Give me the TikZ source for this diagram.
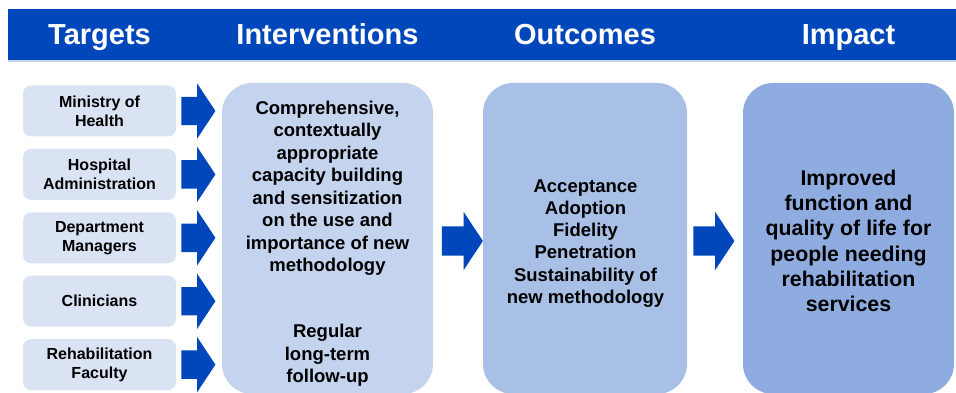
\documentclass[tikz,border=0pt]{standalone}
\usepackage{fontspec}
\setmainfont{Liberation Sans}
\usetikzlibrary{positioning}
\usetikzlibrary{shapes.arrows}
\definecolor{barblue}{RGB}{0,71,187}
\definecolor{barline}{RGB}{200,214,240}
\definecolor{tgtfill}{RGB}{218,227,243}
\definecolor{ivnfill}{RGB}{196,212,238}
\definecolor{outfill}{RGB}{169,192,230}
\definecolor{impfill}{RGB}{142,172,223}
\tikzset{hdr/.style={text=white, anchor=base, inner sep=0pt, font=\fontsize{29}{29}\selectfont\bfseries},
target/.style={rectangle, fill=tgtfill, rounded corners=8pt, minimum width=153pt,
minimum height=51pt, inner sep=0pt, align=center, font=\fontsize{16}{19}\selectfont\bfseries},
stage/.style={rectangle, rounded corners=30pt, minimum width=211pt, minimum height=311pt, inner sep=0pt},
body/.style={align=center, inner sep=0pt, font=\fontsize{18.5}{22.5}\selectfont\bfseries},
bigarrow/.style={single arrow, fill=barblue, inner xsep=0pt, inner ysep=14pt,
single arrow head extend=13.5pt, single arrow tip angle=113, minimum height=34pt},
midarrow/.style={bigarrow, inner ysep=14.5pt, single arrow head extend=14.5pt, minimum height=41pt}}

\begin{document}
\begin{tikzpicture}[x=1pt, y=-1pt]
    \useasboundingbox (0,0) rectangle (956,393);

    \node (bar) [rectangle, fill=barblue, minimum width=948pt, minimum height=51pt, inner sep=0pt] at (482,34.5) {};
    \draw [barline, line width=1.2pt] ([yshift=-0.8pt]bar.south west) -- ([yshift=-0.8pt]bar.south east);

    \node (tgt1) [target] at (99.5,111) {Ministry of\\Health};
    \node (tgt2) [target, below = 12pt of tgt1] {Hospital\\Administration};
    \node (tgt3) [target, below = 12pt of tgt2] {Department\\Managers};
    \node (tgt4) [target, below = 12pt of tgt3] {Clinicians};
    \node (tgt5) [target, below = 12pt of tgt4] {Rehabilitation\\Faculty};

    \node (arr1) [bigarrow, right = 5pt of tgt1] {};
    \node (arr2) [bigarrow, right = 5pt of tgt2] {};
    \node (arr3) [bigarrow, right = 5pt of tgt3] {};
    \node (arr4) [bigarrow, right = 5pt of tgt4] {};
    \node (arr5) [bigarrow, right = 5pt of tgt5] {};

    \node (ivn) [stage, fill=ivnfill] at (327.5,238.5) {};
    \node (out) [stage, fill=outfill, minimum width=204pt] at (585,238.5) {};
    \node (imp) [stage, fill=impfill] at (848.5,238.5) {};

    \node (arr_ivn) [midarrow, right = 8.5pt of ivn, yshift=-2.5pt] {};
    \node (arr_out) [midarrow, right = 6pt of out, yshift=-2.5pt] {};

    \node (h_tgt) [hdr] at (tgt1 |- 0,45) {Targets};
    \node (h_ivn) [hdr] at (ivn |- 0,45) {Interventions};
    \node (h_out) [hdr] at (out |- 0,45) {Outcomes};
    \node (h_imp) [hdr] at (imp |- 0,45) {Impact};

    \node (ivn_txt) [body] at (327.5,188.5) {Comprehensive,\\contextually\\appropriate\\capacity building\\and sensitization\\on the use and\\importance of new\\methodology};
    \node (ivn_fol) [body] at (327.5,355.5) {Regular\\long-term\\follow-up};
    \node (out_txt) [body, font=\fontsize{18.5}{22.1}\selectfont\bfseries] at (585.5,243.5) {Acceptance\\Adoption\\Fidelity\\Penetration\\Sustainability of\\new methodology};
    \node (imp_txt) [body, font=\fontsize{21.3}{25.3}\selectfont\bfseries] at (848.5,241) {Improved\\function and\\quality of life for\\people needing\\rehabilitation\\services};

  \end{tikzpicture}
\end{document}
